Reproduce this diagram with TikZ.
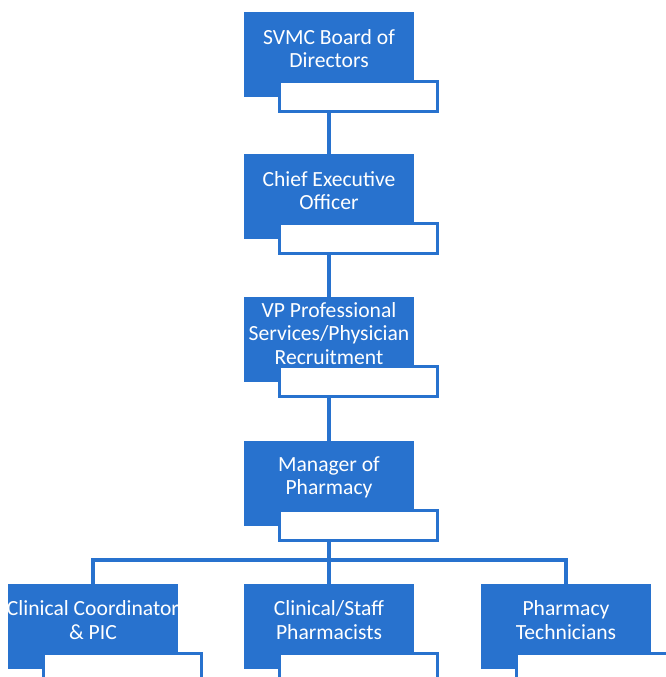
\documentclass[tikz,border=0pt]{standalone}
\usepackage{fontspec}
\setmainfont{Carlito}
\definecolor{orgblue}{RGB}{40,114,206}
\begin{document}
\begin{tikzpicture}[x=1pt,y=-1pt,
  bluebox/.style={fill=orgblue,draw=none,minimum width=170pt,minimum height=85pt,inner sep=0pt,anchor=north},
  whitebox/.style={fill=white,draw=orgblue,line width=3.5pt,minimum width=158pt,minimum height=30pt,inner sep=0pt,anchor=north west},
  lbl/.style={text=white,align=center,font=\fontsize{21.6}{23.2}\selectfont,inner sep=0pt},
  conn/.style={draw=orgblue,line width=4pt}]
\useasboundingbox (0,0) rectangle (665,677);
% top chain
\foreach \i/\t/\txt in {1/12/{SVMC Board of\\Directors},2/154/{Chief Executive\\Officer},3/297/{VP Professional\\Services/Physician\\Recruitment},4/441/{Manager of\\Pharmacy}}{
  \node[bluebox] (b\i) at (329,\t) {};
  \begin{scope}
    \clip (244,\t) rectangle (414,\t+85);
    \node[lbl] (t\i) at (329,\t+36.5) {\txt};
  \end{scope}
  \node[whitebox] (w\i) at (277.75,\t+67.75) {};
}
% bottom row
\foreach \i/\x/\txt in {5/93/{Clinical Coordinator\\\& PIC},6/329/{Clinical/Staff\\Pharmacists},7/566/{Pharmacy\\Technicians}}{
  \node[bluebox] (b\i) at (\x,584) {};
  \begin{scope}
    \clip (\x-85,584) rectangle (\x+85,669);
    \node[lbl] (t\i) at (\x,584+36) {\txt};
  \end{scope}
  \node[whitebox] (w\i) at (\x-51.25,584+67.75) {};
}
\coordinate (h) at (329,560);
\draw[conn] (w1.south -| b1.south) -- (b2.north);
\draw[conn] (w2.south -| b2.south) -- (b3.north);
\draw[conn] (w3.south -| b3.south) -- (b4.north);
\draw[conn] (w4.south -| b4.south) -- (b6.north);
\draw[conn] (b5.north) |- (h) -| (b7.north);
\end{tikzpicture}
\end{document}
